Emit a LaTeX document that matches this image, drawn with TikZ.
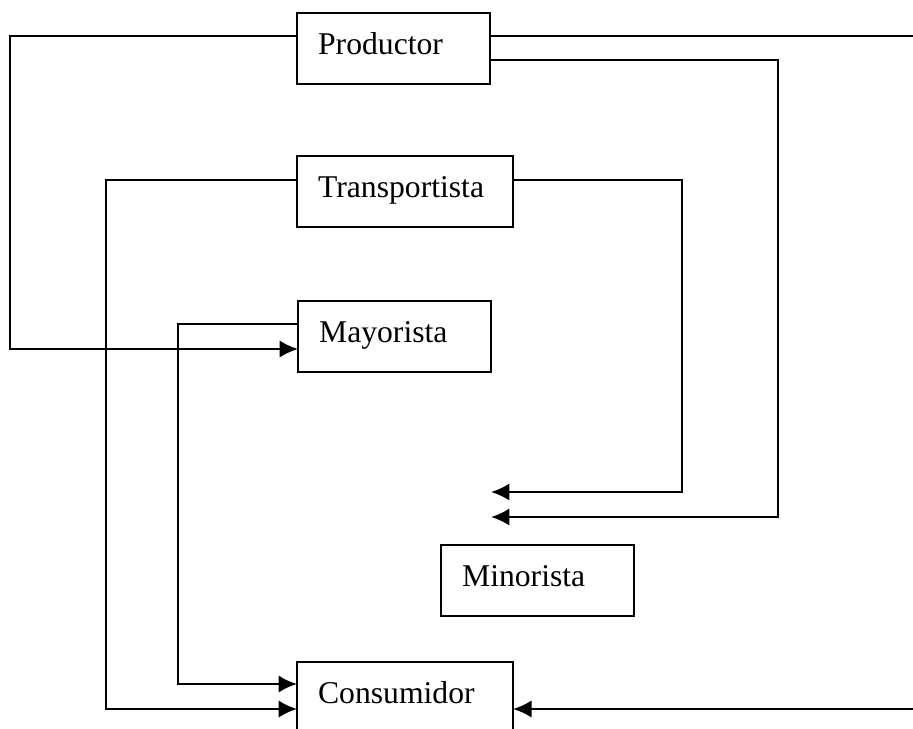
\documentclass[tikz,border=0pt]{standalone}
\usepackage{fontspec}
\setmainfont{Liberation Serif}
\usetikzlibrary{arrows.meta}

\begin{document}
\begin{tikzpicture}[>={Latex[length=7pt,width=6.6pt]}, x=0.379pt, y=-0.379pt, line width=.9pt,
    caja/.style={draw, anchor=north west, outer sep=0pt, inner xsep=8pt, inner ysep=0pt,
        text height=15.9pt, text depth=11pt, align=left, font=\fontsize{12}{14}\selectfont, text width=57.2pt},
    ancha/.style={caja, text width=65.9pt}]
\useasboundingbox (0,0) rectangle (913,728);

\node[caja] (prod) at (297,13) {Productor};
\node[ancha] (trans) at (297,156) {Transportista};
\node[caja] (may) at (298,301) {Mayorista};
\node[caja] (min) at (441,545) {Minorista};
\node[ancha] (cons) at (297,662) {Consumidor};

\draw[->] ([shift={(0,23)}]prod.north west) -| (10,349) -- ([shift={(0,48)}]may.north west);
\draw[->] ([shift={(0,23)}]prod.north east) -- (930,36) |- ([shift={(0,47)}]cons.north east);
\draw[->] ([shift={(0,47)}]prod.north east) -| (778,517) -- ([shift={(50,-28)}]min.north west);

\draw[->] ([shift={(0,24)}]trans.north west) -| (106,709) -- ([shift={(0,47)}]cons.north west);
\draw[->] ([shift={(0,24)}]trans.north east) -| (682,492) -- ([shift={(50,-53)}]min.north west);

\draw[->] ([shift={(0,23)}]may.north west) -| (178,684) -- ([shift={(0,22)}]cons.north west);
\end{tikzpicture}
\end{document}
